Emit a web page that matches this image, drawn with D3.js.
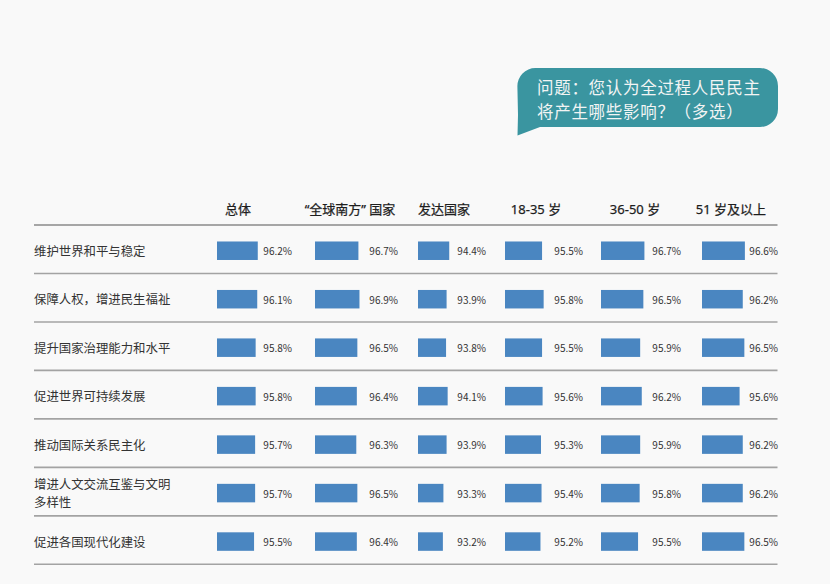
<!DOCTYPE html>
<html>
<head>
<meta charset="utf-8">
<script src="https://cdn.jsdelivr.net/npm/d3@7/dist/d3.min.js"></script>
<style>
  html, body { margin: 0; padding: 0; background: #f9f9f9; }
  svg { display: block; }
  text { font-family: "Noto Sans CJK SC", "Noto Sans", sans-serif; }
</style>
</head>
<body>
<svg id="chart" width="830" height="584"></svg>
<script>
// ---- data ----
const question = ["问题：您认为全过程人民民主", "将产生哪些影响？（多选）"];
const categories = [
  "维护世界和平与稳定",
  "保障人权，增进民生福祉",
  "提升国家治理能力和水平",
  "促进世界可持续发展",
  "推动国际关系民主化",
  "增进人文交流互鉴与文明多样性",
  "促进各国现代化建设"
];
const groups = ["总体", "\u201c全球南方\u201d 国家", "发达国家", "18-35 岁", "36-50 岁", "51 岁及以上"];
const overall   = [96.2, 96.1, 95.8, 95.8, 95.7, 95.7, 95.5];
const south     = [96.7, 96.9, 96.5, 96.4, 96.3, 96.5, 96.4];
const developed = [94.4, 93.9, 93.8, 94.1, 93.9, 93.3, 93.2];
const age18_35  = [95.5, 95.8, 95.5, 95.6, 95.3, 95.4, 95.2];
const age36_50  = [96.7, 96.5, 95.9, 96.2, 95.9, 95.8, 95.5];
const age51up   = [96.6, 96.2, 96.5, 95.6, 96.2, 96.2, 96.5];
const series = [overall, south, developed, age18_35, age36_50, age51up];

// ---- layout ----
const svg = d3.select("#chart");
const W = 830, H = 584;
svg.append("rect").attr("width", W).attr("height", H).attr("fill", "#f9f9f9");

const barX   = d3.scaleOrdinal().domain(groups).range([217, 315, 418, 505, 601, 702]);
const labelX = d3.scaleOrdinal().domain(groups).range([292, 398, 486, 583, 681, 778]);
const headX  = d3.scaleOrdinal().domain(groups).range([238, 350, 444, 536, 635, 731]);
const y = d3.scaleBand().domain(categories).range([225, 564.3]).padding(0);
const w = d3.scaleLinear().domain([88.5, 97]).range([0, 45]);
const barH = 18.5;
const lineX0 = 34, lineX1 = 777.5;

// speech bubble
const bx0 = 517, bx1 = 778, by0 = 68, by1 = 127, r = 18;
const bubble = d3.path();
bubble.moveTo(bx0 + r, by0);
bubble.lineTo(bx1 - r, by0);
bubble.arcTo(bx1, by0, bx1, by0 + r, r);
bubble.lineTo(bx1, by1 - r);
bubble.arcTo(bx1, by1, bx1 - r, by1, r);
bubble.lineTo(540, by1);
bubble.lineTo(517.5, 135.5);
bubble.lineTo(bx0 + 1, by1 - 12);
bubble.arcTo(bx0, by0, bx0 + r, by0, r);
bubble.closePath();
svg.append("path").attr("d", bubble.toString()).attr("fill", "#3a95a0");
svg.append("g").selectAll("text").data(question).join("text")
  .attr("x", 537).attr("y", (d, i) => 87 + i * 24)
  .attr("dominant-baseline", "central")
  .attr("font-size", 16.5).attr("letter-spacing", 0.7)
  .attr("fill", "#f2f4f4").text(d => d);

// headers
svg.append("g").selectAll("text").data(groups).join("text")
  .attr("x", d => headX(d)).attr("y", 208.5)
  .attr("text-anchor", "middle").attr("dominant-baseline", "central")
  .style("font-family", '"Noto Sans", "Noto Sans CJK SC", sans-serif')
  .attr("font-size", 13).attr("fill", "#1e1e1e")
  .attr("stroke", "#1e1e1e").attr("stroke-width", 0.25)
  .text(d => d);

// separator lines
const lineYs = [225].concat(categories.map(c => y(c) + y.bandwidth()));
svg.append("g").selectAll("line").data(lineYs).join("line")
  .attr("x1", lineX0).attr("x2", lineX1)
  .attr("y1", d => d).attr("y2", d => d)
  .attr("stroke", (d, i) => i === 0 ? "#8a8a8a" : "#a3a3a3")
  .attr("stroke-width", 1.6);

// row labels
const rows = svg.append("g").selectAll("g").data(categories).join("g")
  .attr("transform", d => `translate(0,${y(d) + y.bandwidth() / 2 + 1.5})`);
rows.each(function (d) {
  const lines = d.length > 12 ? [d.slice(0, 11), d.slice(11)] : [d];
  d3.select(this).selectAll("text").data(lines).join("text")
    .attr("x", 34)
    .attr("y", (t, i) => (i - (lines.length - 1) / 2) * 18.5)
    .attr("dominant-baseline", "central")
    .attr("font-size", 12.4).attr("fill", "#333")
    .text(t => t);
});

// bars and value labels
groups.forEach((g, gi) => {
  const vals = series[gi];
  const gg = svg.append("g");
  gg.selectAll("rect").data(vals).join("rect")
    .attr("x", barX(g))
    .attr("y", (v, i) => y(categories[i]) + y.bandwidth() / 2 + 1.5 - barH / 2)
    .attr("width", v => w(v))
    .attr("height", barH)
    .attr("fill", "#4a86c1");
  gg.selectAll("text").data(vals).join("text")
    .attr("x", labelX(g))
    .attr("y", (v, i) => y(categories[i]) + y.bandwidth() / 2 + 1.5)
    .attr("text-anchor", "end").attr("dominant-baseline", "central")
    .attr("font-size", 10).attr("fill", "#333")
    .text(v => v.toFixed(1) + "%");
});
</script>
</body>
</html>
